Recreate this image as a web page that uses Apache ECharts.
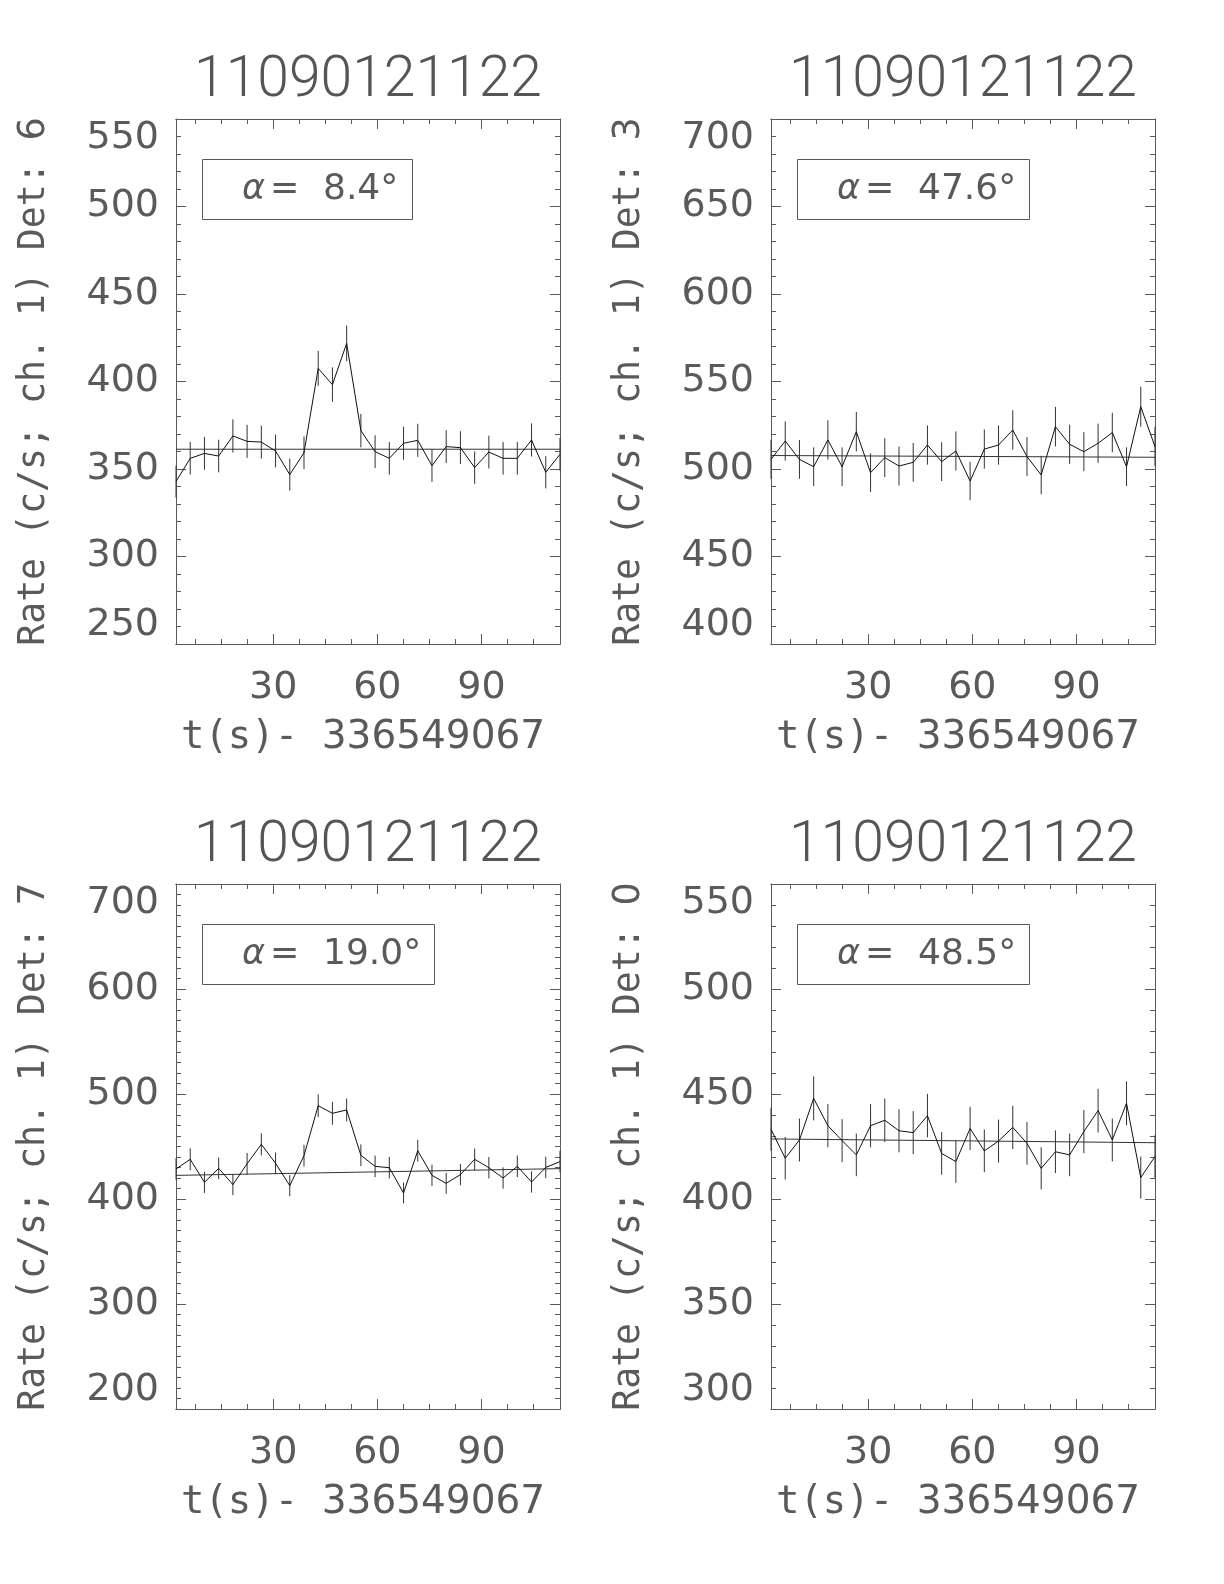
<!DOCTYPE html>
<html>
<head>
<meta charset="utf-8">
<script src="https://cdn.jsdelivr.net/npm/echarts@6/dist/echarts.min.js"></script>
<style>
html,body{margin:0;padding:0;background:#fff;}
#chart{width:1224px;height:1584px;}
</style>
</head>
<body>
<div id="chart"></div>
<script>
// ---- data ----
const plotTitle = '11090121122';
const xAxisTitle = ['t(s)- ', '336549067'];
const yAxisTitle = 'Rate (c/s; ch. 1) Det: ';
const times = [2.000, 6.096, 10.192, 14.288, 18.384, 22.480, 26.576, 30.672, 34.768, 38.864,
  42.960, 47.056, 51.152, 55.248, 59.344, 63.440, 67.536, 71.632, 75.728, 79.824,
  83.920, 88.016, 92.112, 96.208, 100.304, 104.400, 108.496, 112.592];
const xRange = [2, 112.6];
const xMajorTicks = [30, 60, 90];
const xMinorTicks = [7.5, 15, 22.5, 37.5, 45, 52.5, 67.5, 75, 82.5, 97.5, 105];

const detectors = ['6', '3', '7', '0'];
const alphas = ['8.4', '47.6', '19.0', '48.5'];
const yMins = [250, 400, 200, 300];
const yMaxs = [550, 700, 700, 550];
const yIntervals = [50, 50, 100, 50];
const yMinorSplits = [5, 5, 10, 5];

const rateDet6 = [342.8, 356.1, 358.9, 357.4, 368.9, 365.8, 365.4, 360.3, 346.8, 359.3,
  407.5, 398.2, 421.8, 371.9, 359.9, 356.1, 364.7, 366.4, 351.9, 362.8,
  362.2, 350.8, 359.7, 356.1, 356.1, 366.6, 348.1, 358.4];
const errDet6 = [9.15, 9.32, 9.36, 9.34, 9.49, 9.45, 9.45, 9.38, 9.20, 9.37,
  9.97, 9.86, 10.15, 9.53, 9.37, 9.32, 9.44, 9.46, 9.27, 9.41,
  9.40, 9.25, 9.37, 9.32, 9.32, 9.46, 9.22, 9.35];
const bgDet6 = [361.3, 361.3];

const rateDet3 = [505.5, 516.0, 505.5, 501.3, 516.6, 501.3, 521.3, 497.9, 506.5, 501.7,
  503.8, 513.7, 504.2, 510.3, 493.1, 511.4, 513.7, 522.3, 507.1, 496.6,
  524.2, 514.1, 509.9, 514.7, 520.8, 501.3, 535.6, 512.8];
const errDet3 = [11.11, 11.22, 11.11, 11.06, 11.23, 11.06, 11.28, 11.03, 11.12, 11.07,
  11.09, 11.20, 11.09, 11.16, 10.97, 11.17, 11.20, 11.29, 11.13, 11.01,
  11.31, 11.20, 11.16, 11.21, 11.28, 11.06, 11.44, 11.19];
const bgDet3 = [507.7, 506.7];

const rateDet7 = [428.6, 437.8, 415.9, 429.2, 413.7, 433.6, 452.1, 434.0, 412.7, 441.3,
  488.9, 481.6, 484.8, 441.6, 431.1, 429.8, 405.7, 446.0, 422.5, 414.9,
  423.2, 437.8, 429.8, 420.0, 431.1, 416.2, 430.1, 435.6];
const errDet7 = [10.23, 10.34, 10.08, 10.24, 10.05, 10.29, 10.51, 10.29, 10.04, 10.38,
  10.93, 10.84, 10.88, 10.38, 10.26, 10.24, 9.95, 10.43, 10.16, 10.06,
  10.16, 10.34, 10.24, 10.13, 10.26, 10.08, 10.25, 10.31];
const bgDet7 = [422.5, 428.9];

const rateDet0 = [433.2, 419.4, 428.1, 447.9, 434.9, 427.8, 421.0, 434.9, 437.5, 432.5,
  431.6, 439.7, 421.7, 417.8, 433.6, 422.9, 427.6, 434.1, 426.5, 414.6,
  422.5, 421.0, 432.1, 442.1, 428.1, 445.6, 410.2, 420.2];
const errDet0 = [10.28, 10.12, 10.22, 10.46, 10.30, 10.22, 10.14, 10.30, 10.34, 10.28,
  10.26, 10.36, 10.15, 10.10, 10.29, 10.16, 10.22, 10.29, 10.20, 10.06,
  10.16, 10.14, 10.27, 10.39, 10.22, 10.43, 10.01, 10.13];
const bgDet0 = [428.6, 426.8];

const rates = [rateDet6, rateDet3, rateDet7, rateDet0];
const errs = [errDet6, errDet3, errDet7, errDet0];
const bgs = [bgDet6, bgDet3, bgDet7, bgDet0];

// ---- layout ----
const gridLefts = [176, 771, 176, 771];
const gridTops = [119, 119, 884, 884];
const gridW = 384, gridH = 525;
const INK = '#5a5a5a';
const SANS = 'DejaVu Sans';
const MONO = 'DejaVu Sans Mono';

const grids = [], xAxes = [], yAxes = [], series = [], titles = [];

function xAxisDef(gi, pos, ticks, len, withLabels) {
  return {
    type: 'value', gridIndex: gi, position: pos, min: xRange[0], max: xRange[1],
    axisLine: {show: true, onZero: false, lineStyle: {color: INK, width: 1}},
    axisTick: {show: true, inside: true, length: len, customValues: ticks, lineStyle: {color: INK, width: 1}},
    axisLabel: withLabels ? {
      show: true, customValues: xMajorTicks, margin: 25,
      fontFamily: SANS, fontSize: 38, lineHeight: 38, color: INK
    } : {show: false},
    splitLine: {show: false},
    name: withLabels ? '{m|' + xAxisTitle[0] + '}{d|' + xAxisTitle[1] + '}' : '',
    nameLocation: 'middle', nameGap: 74,
    nameTextStyle: {
      color: INK, lineHeight: 39, padding: [0, 10, 0, 0],
      rich: {
        m: {fontFamily: MONO, fontSize: 39, color: INK, lineHeight: 39},
        d: {fontFamily: SANS, fontSize: 39, color: INK, lineHeight: 39}
      }
    }
  };
}

function yAxisDef(gi, pos, p, withLabels) {
  return {
    type: 'value', gridIndex: gi, position: pos,
    min: yMins[p], max: yMaxs[p], interval: yIntervals[p],
    axisLine: {show: true, onZero: false, lineStyle: {color: INK, width: 1}},
    axisTick: {show: true, inside: true, length: 10, lineStyle: {color: INK, width: 1}},
    minorTick: {show: true, splitNumber: yMinorSplits[p], length: 5, lineStyle: {color: INK, width: 1}},
    axisLabel: withLabels ? {
      show: true, margin: 17, fontFamily: SANS, fontSize: 38, color: INK,
      verticalAlignMinLabel: 'bottom', verticalAlignMaxLabel: 'top'
    } : {show: false},
    splitLine: {show: false},
    minorSplitLine: {show: false},
    name: withLabels ? '{m|' + yAxisTitle + '}{d|' + detectors[p] + '}' : '',
    nameLocation: 'middle', nameRotate: 90, nameGap: 123,
    nameTextStyle: {
      color: INK,
      rich: {
        m: {fontFamily: MONO, fontSize: 36.5, color: INK},
        d: {fontFamily: SANS, fontSize: 36.5, color: INK}
      }
    }
  };
}

for (let p = 0; p < 4; p++) {
  grids.push({left: gridLefts[p], top: gridTops[p], width: gridW, height: gridH, containLabel: false});
  const xb = xAxes.length;
  xAxes.push(xAxisDef(p, 'bottom', xMajorTicks, 10, true));
  xAxes.push(xAxisDef(p, 'bottom', xMinorTicks, 5, false));
  xAxes.push(xAxisDef(p, 'top', xMajorTicks, 10, false));
  xAxes.push(xAxisDef(p, 'top', xMinorTicks, 5, false));
  const yb = yAxes.length;
  yAxes.push(yAxisDef(p, 'left', p, true));
  yAxes.push(yAxisDef(p, 'right', p, false));

  const lineData = times.map((t, i) => [t, rates[p][i]]);
  const errData = times.map((t, i) => [t, rates[p][i], errs[p][i]]);
  const bgData = [[xRange[0], bgs[p][0]], [xRange[1], bgs[p][1]]];

  series.push({
    type: 'line', xAxisIndex: xb, yAxisIndex: yb, data: bgData,
    showSymbol: false, symbol: 'none', silent: true,
    lineStyle: {color: '#333', width: 1}, animation: false, z: 2
  });
  series.push({
    type: 'custom', xAxisIndex: xb, yAxisIndex: yb, data: errData,
    encode: {x: 0, y: 1}, animation: false, silent: true, z: 3,
    renderItem: function (params, api) {
      const x = api.value(0), y = api.value(1), e = api.value(2);
      const a = api.coord([x, y - e]), b = api.coord([x, y + e]);
      return {type: 'line', shape: {x1: a[0], y1: a[1], x2: b[0], y2: b[1]},
        style: {stroke: '#333', lineWidth: 1}};
    }
  });
  series.push({
    type: 'line', xAxisIndex: xb, yAxisIndex: yb, data: lineData,
    showSymbol: false, symbol: 'none', silent: true,
    lineStyle: {color: '#111', width: 1}, animation: false, z: 4
  });

  titles.push({
    text: plotTitle, left: gridLefts[p] + gridW / 2, textAlign: 'center',
    top: gridTops[p] - 66, padding: 0,
    textStyle: {fontFamily: 'Roboto', fontWeight: 300, fontSize: 57, lineHeight: 57, color: '#555'}
  });
  titles.push({
    text: '{a|α}{e|=}{n|' + alphas[p] + '°}',
    left: gridLefts[p] + 26, top: gridTops[p] + 41,
    padding: [12, 14, 12, 40], borderColor: INK, borderWidth: 1,
    textStyle: {
      lineHeight: 35, fontWeight: 'normal',
      rich: {
        a: {fontFamily: SANS, fontStyle: 'italic', fontWeight: 'normal', fontSize: 35, color: INK, width: 28, lineHeight: 35},
        e: {fontFamily: SANS, fontWeight: 'normal', fontSize: 35, color: INK, width: 53, lineHeight: 35},
        n: {fontFamily: SANS, fontWeight: 'normal', fontSize: 36, color: INK, lineHeight: 35}
      }
    }
  });
}

const chart = echarts.init(document.getElementById('chart'), null, {renderer: 'canvas'});
chart.setOption({
  backgroundColor: '#fff',
  animation: false,
  title: titles,
  grid: grids,
  xAxis: xAxes,
  yAxis: yAxes,
  series: series
});
</script>
</body>
</html>
